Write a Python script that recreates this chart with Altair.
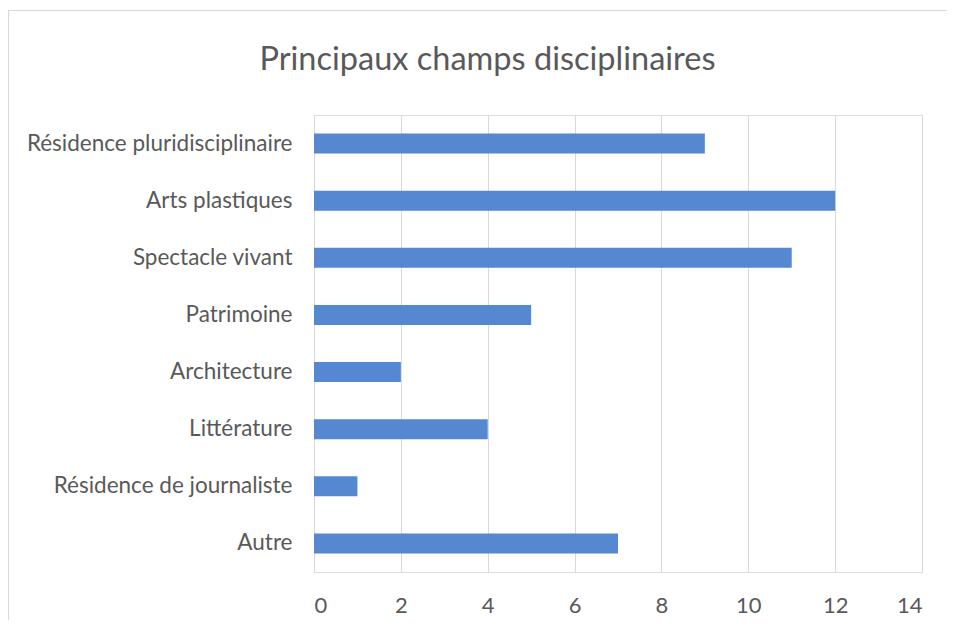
import altair as alt
import pandas as pd

categories = [
    "Résidence pluridisciplinaire",
    "Arts plastiques",
    "Spectacle vivant",
    "Patrimoine",
    "Architecture",
    "Littérature",
    "Résidence de journaliste",
    "Autre",
]
values = [9, 12, 11, 5, 2, 4, 1, 7]
x_ticks = [0, 2, 4, 6, 8, 10, 12, 14]
title_text = ["Principaux champs disciplinaires"]

df = pd.DataFrame({"cat": categories, "val": values})
tdf = pd.DataFrame({"t": title_text})

FONT = "Lato"
GRAY = "#595959"

bars = alt.Chart(df).mark_bar(color="#5588d0").encode(
    x=alt.X(
        "val:Q",
        scale=alt.Scale(domain=[0, 14], nice=False),
        axis=alt.Axis(
            values=x_ticks,
            title=None,
            grid=True,
            gridColor="#d9d9d9",
            gridWidth=1,
            domain=False,
            ticks=False,
            labelPadding=23,
            labelFontSize=22,
            labelColor=GRAY,
            labelFont=FONT,
        ),
    ),
    y=alt.Y(
        "cat:N",
        sort=categories,
        scale=alt.Scale(paddingInner=0.65, paddingOuter=0.325),
        axis=alt.Axis(
            title=None,
            domain=False,
            ticks=False,
            grid=False,
            labelPadding=22,
            labelFontSize=22.5,
            labelLimit=0,
            labelColor=GRAY,
            labelFont=FONT,
        ),
    ),
)

border = alt.Chart(df).mark_rule(color="#d9d9d9", strokeWidth=1).encode(
    x=alt.value(-305.5), x2=alt.value(640), y=alt.value(-104.5), y2=alt.value(-104.5)
)
border_left = alt.Chart(df).mark_rule(color="#d9d9d9", strokeWidth=1).encode(
    x=alt.value(-305.5), y=alt.value(-104.5), y2=alt.value(520)
)

title = alt.Chart(tdf).mark_text(
    font=FONT, fontSize=32.5, color=GRAY, align="center", baseline="alphabetic"
).encode(text="t:N", x=alt.value(173.5), y=alt.value(-45))

chart = alt.layer(border, border_left, bars, title).properties(
    width=608,
    height=457,
    autosize=alt.AutoSizeParams(type="none"),
    padding={"left": 306, "top": 107, "right": 25, "bottom": 48},
).configure_view(stroke=None).configure(background="white")

chart.save("out.html", embed_options={"renderer": "svg", "actions": False})
